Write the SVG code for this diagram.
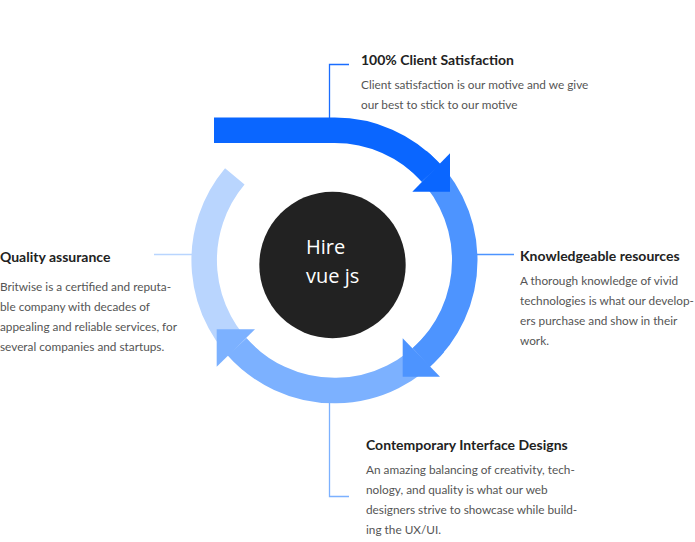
<svg xmlns="http://www.w3.org/2000/svg" width="695" height="542" viewBox="0 0 695 542">
<style>
.t{font-family:Lato,"Open Sans","Liberation Sans",sans-serif;font-weight:bold;font-size:14px;fill:#222}
.b{font-family:Lato,"Open Sans","Liberation Sans",sans-serif;font-size:11.8px;fill:#555}
.arc{fill:none;stroke-width:25.5;stroke-linecap:butt}
.ln{fill:none;stroke-width:1.3}
.hub{font-family:"Open Sans","Liberation Sans",sans-serif;font-size:20px;fill:#fff}
</style>
<rect width="695" height="542" fill="#fff"/>
<g id="connectors">
<polyline class="ln" stroke="#1a6dff" points="349,64.5 329.5,64.5 329.5,118"/>
<line class="ln" stroke="#4d94ff" x1="476" y1="254.5" x2="514" y2="254.5"/>
<polyline class="ln" stroke="#7cb1ff" points="329.5,402 329.5,496.5 349,496.5"/>
<line class="ln" stroke="#b9d5fe" x1="154" y1="254.5" x2="193" y2="254.5"/>
</g>
<g id="cycle">
<path class="arc" stroke="#b9d5fe" d="M250.7,360.1 A130.3,130.3 0 0 1 234.8,176.4"/>
<path class="arc" stroke="#7cb1ff" d="M434.3,344.1 A130.3,130.3 0 0 1 237.1,346.8"/>
<polygon fill="#7cb1ff" points="216.7,329.3 255,329.3 216.7,366.7"/>
<path class="arc" stroke="#4d94ff" d="M418.3,160.5 A130.3,130.3 0 0 1 421.3,357.4"/>
<polygon fill="#4d94ff" points="402.7,338.3 440,376.7 402.7,376.7"/>
<path class="arc" stroke="#0a66ff" d="M214,130.3 H334.5 A130.3,130.3 0 0 1 431,172.8"/>
<polygon fill="#0a66ff" points="450,153.3 450,191.7 412.3,191.7"/>
</g>
<g id="hub">
<circle cx="332.5" cy="265" r="73.2" fill="#222"/>
<text class="hub" x="306" y="254">Hire</text>
<text class="hub" x="306" y="283">vue js</text>
</g>
<g id="node-top">
<text class="t" x="361" y="65">100% Client Satisfaction</text>
<text class="b" x="361" y="89">Client satisfaction is our motive and we give</text>
<text class="b" x="361" y="109">our best to stick to our motive</text>
</g>
<g id="node-right">
<text class="t" x="520" y="261">Knowledgeable resources</text>
<text class="b" x="520" y="285">A thorough knowledge of vivid</text>
<text class="b" x="520" y="305">technologies is what our develop-</text>
<text class="b" x="520" y="325">ers purchase and show in their</text>
<text class="b" x="520" y="345">work.</text>
</g>
<g id="node-bottom">
<text class="t" x="366" y="450">Contemporary Interface Designs</text>
<text class="b" x="366" y="474">An amazing balancing of creativity, tech-</text>
<text class="b" x="366" y="494">nology, and quality is what our web</text>
<text class="b" x="366" y="514">designers strive to showcase while build-</text>
<text class="b" x="366" y="534">ing the UX/UI.</text>
</g>
<g id="node-left">
<text class="t" x="0" y="262">Quality assurance</text>
<text class="b" x="0" y="291">Britwise is a certified and reputa-</text>
<text class="b" x="0" y="311">ble company with decades of</text>
<text class="b" x="0" y="331">appealing and reliable services, for</text>
<text class="b" x="0" y="351">several companies and startups.</text>
</g>
</svg>
